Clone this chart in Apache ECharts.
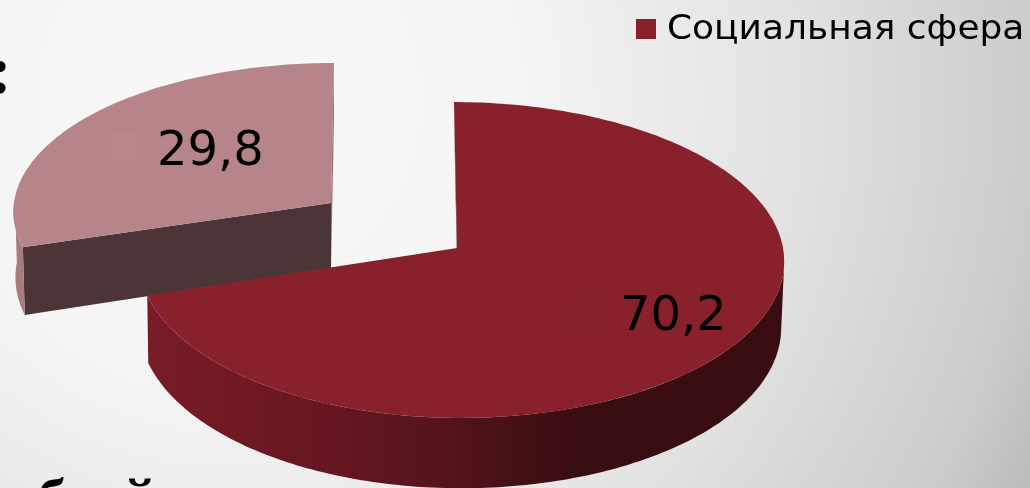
<!DOCTYPE html>
<html>
<head>
<meta charset="utf-8">
<script src="https://cdn.jsdelivr.net/npm/echarts@6/dist/echarts.min.js"></script>
<style>html,body{margin:0;padding:0;background:#fff}#c{width:1030px;height:488px}</style>
</head>
<body>
<div id="c"></div>
<script>
const categories = ['Социальная сфера', 'Прочие расходы'];
const values = [70.2, 29.8];
const valueLabels = ['70,2', '29,8'];

const total = values.reduce((a, b) => a + b, 0);
const SERIF = '"Liberation Serif"';
const SANS = '"DejaVu Sans"';

const LOOK = [
  {
    top: { ax: 457, ay: 248, rr: 326, rl: 318, t: 157, k: 0.0759, skew: -3 },
    bot: { ax: 458, ay: 314, rr: 322, rl: 318, t: 161, k: 0.0759, skew: -3 },
    fill: '#89212d', startFace: '#3a0d12', endFace: null,
    wall: { type: 'linear', global: true, x: 147, y: 0, x2: 780, y2: 0, colorStops: [
      { offset: 0, color: '#781c26' }, { offset: 0.31, color: '#651620' },
      { offset: 0.5, color: '#511319' }, { offset: 0.6, color: '#411014' },
      { offset: 0.7, color: '#380c11' }, { offset: 1, color: '#380c11' }] },
    wallArc: [96, null], z: 20, key: [572, 302, 26, 24, '#87212c'], text: [620, 294]
  },
  {
    top: { ax: 331, ay: 203, rr: 317, rl: 317, t: 147, k: 0.05, skew: 3 },
    bot: { ax: 331, ay: 268, rr: 315, rl: 315, t: 156, k: 0.05, skew: 3 },
    fill: '#b78589', startFace: '#4b3536', endFace: '#9a6e71',
    wall: '#a87b7e',
    wallArc: [null, 272], z: 0, key: [111, 133, 25, 26, '#b9878a'], text: [157, 129]
  }
];

function pt(g, deg) {
  const a = deg * Math.PI / 180, X = Math.sin(a), Y = Math.cos(a), s = 1 / (1 + g.k * Y);
  return [g.ax + X * (X > 0 ? g.rr : g.rl) * s + g.skew * Y, g.ay - Y * g.t * s];
}
function arc(g, from, to) {
  const out = [], n = Math.ceil(Math.abs(to - from));
  for (let i = 0; i <= n; i++) out.push(pt(g, from + (to - from) * i / n));
  return out;
}
function renderItem(params, api) {
  const i = params.dataIndex, L = LOOK[i];
  let before = 0;
  for (let j = 0; j < i; j++) before += values[j];
  const start = before / total * 360, end = (before + api.value(1)) / total * 360;
  const apexT = [L.top.ax, L.top.ay], apexB = [L.bot.ax, L.bot.ay];
  const poly = (points, fill, z2) => ({ type: 'polygon', shape: { points }, style: { fill }, z2: L.z + z2 });
  const children = [];
  if (L.endFace) children.push(poly([apexT, pt(L.top, end), pt(L.bot, end), apexB], L.endFace, 0));
  children.push(poly([apexT, pt(L.top, start), pt(L.bot, start), apexB], L.startFace, 1));
  const w0 = L.wallArc[0] == null ? start : L.wallArc[0];
  const w1 = L.wallArc[1] == null ? end : L.wallArc[1];
  children.push(poly(arc(L.top, w0, w1).concat(arc(L.bot, w1, w0)), L.wall, 2));
  children.push(poly([apexT].concat(arc(L.top, start, end)), L.fill, 3));
  children.push({ type: 'rect', shape: { x: L.key[0], y: L.key[1], width: L.key[2], height: L.key[3] }, style: { fill: L.key[4] }, z2: L.z + 4 });
  children.push({ type: 'text', style: { text: valueLabels[i], x: L.text[0], y: L.text[1], fill: '#000', font: '48px ' + SANS }, z2: L.z + 5 });
  return { type: 'group', children };
}

const chart = echarts.init(document.getElementById('c'), null, { renderer: 'canvas' });
chart.setOption({
  animation: false,
  backgroundColor: { type: 'radial', global: true, x: 230, y: 100, r: 890, colorStops: [
    { offset: 0, color: '#f8f8f8' }, { offset: 0.31, color: '#f5f5f5' },
    { offset: 0.64, color: '#e2e2e2' }, { offset: 0.9, color: '#cccccc' }, { offset: 1, color: '#bbbbbb' }] },
  graphic: [
    { type: 'rect', shape: { x: 636, y: 19, width: 20, height: 20 }, style: { fill: '#89212d' } },
    { type: 'text', x: 667, y: 14, scaleX: 1.09, style: { text: categories[0], fill: '#000', font: '33px ' + SANS } },
    { type: 'text', x: -11, y: 41, style: { text: ':', fill: '#000', font: 'bold 68px ' + SERIF } },
    { type: 'text', x: 9, y: 474, style: { text: 'ублей', fill: '#000', font: 'bold 58px ' + SERIF } }
  ],
  series: [{
    type: 'custom',
    coordinateSystem: 'none',
    renderItem,
    silent: true,
    data: categories.map((c, i) => ({ name: c, value: [i, values[i]] }))
  }]
});
</script>
</body>
</html>
